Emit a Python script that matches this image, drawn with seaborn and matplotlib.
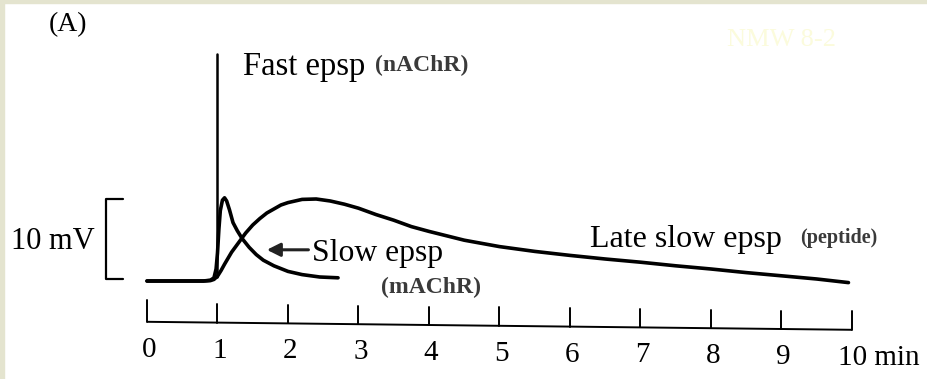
import numpy as np
import pandas as pd
import matplotlib
matplotlib.use("Agg")
import matplotlib.pyplot as plt
from matplotlib.patches import Rectangle
import seaborn as sns

# ---------------- data (time in min, potential in mV) ----------------
late_t = [0.00, 0.80, 0.90, 0.95, 1.00, 1.05, 1.10, 1.20, 1.30, 1.40, 1.50, 1.60,
          1.70, 1.80, 1.90, 2.00, 2.20, 2.40, 2.60, 2.80, 3.00, 3.25, 3.50, 3.75,
          4.00, 4.50, 5.00, 5.50, 6.00, 6.50, 7.00, 7.50, 8.00, 8.50, 9.00, 9.50, 9.95]
late_v = [0.0, 0.0, 0.05, 0.2, 0.6, 1.3, 2.1, 3.6, 4.8, 6.0, 7.0, 7.8,
          8.5, 9.0, 9.5, 9.8, 10.2, 10.25, 10.0, 9.6, 9.1, 8.3, 7.6, 6.8,
          6.2, 5.1, 4.3, 3.7, 3.2, 2.75, 2.35, 1.9, 1.5, 1.05, 0.65, 0.25, -0.2]

slow_t = [0.00, 0.80, 0.90, 0.95, 0.98, 1.00, 1.02, 1.04, 1.07, 1.10, 1.13, 1.17,
          1.22, 1.28, 1.35, 1.45, 1.55, 1.65, 1.80, 2.00, 2.20, 2.45, 2.71]
slow_v = [0.0, 0.0, 0.1, 0.4, 1.5, 3.5, 6.5, 8.8, 10.1, 10.4, 10.0, 8.9,
          7.3, 6.3, 5.3, 4.2, 3.3, 2.6, 1.9, 1.2, 0.8, 0.5, 0.4]

fast_t = [1.0, 1.0]
fast_v = [0.5, 28.4]

tick_vals = [0, 1, 2, 3, 4, 5, 6, 7, 8, 9, 10]
tick_labels = ["0", "1", "2", "3", "4", "5", "6", "7", "8", "9", "10 min"]
scale_bar_mv = [0.2, 10.2]

# ---------------- figure ----------------
sns.set_style("white")
plt.rcParams["font.family"] = ["Liberation Serif", "DejaVu Serif"]
plt.rcParams["text.color"] = "black"

fig = plt.figure(figsize=(9.27, 3.79), dpi=100)
fig.patch.set_facecolor("white")
ax = fig.add_axes([0, 0, 1, 1])
ax.set_facecolor("white")
ax.set_xlim(-2.085, 11.064)
ax.set_ylim(-12.25, 35.125)
ax.axis("off")

# textured border strips
fig.patches.append(Rectangle((0, 1 - 3 / 379), 1, 3 / 379, transform=fig.transFigure,
                             color="#e4e4cf", zorder=0))
fig.patches.append(Rectangle((0, 0), 4 / 927, 1, transform=fig.transFigure,
                             color="#e4e4cf", zorder=0))

lw = 2.6
sns.lineplot(x=late_t, y=late_v, ax=ax, color="black", lw=lw, sort=False, estimator=None)
sns.lineplot(x=slow_t, y=slow_v, ax=ax, color="black", lw=lw, sort=False, estimator=None)
sns.lineplot(x=fast_t, y=fast_v, ax=ax, color="black", lw=1.8, sort=False, estimator=None)

# time axis (slightly tilted, as in the scanned original)
ax_y = np.array([-5.1, -6.1])
def axis_y(t):
    return np.interp(t, [tick_vals[0], tick_vals[-1]], ax_y)

ax.plot([tick_vals[0], tick_vals[-1]], ax_y, color="black", lw=1.4, solid_capstyle="butt")
for i, t in enumerate(tick_vals):
    h = 2.75 if i == 0 else 2.3
    ax.plot([t, t], [axis_y(t), axis_y(t) + h], color="black", lw=1.4)
    ly = axis_y(t) - 3.5
    if i == len(tick_vals) - 1:
        ax.text(t - 0.2, ly, tick_labels[i], ha="left", va="center", fontsize=21)
    else:
        ax.text(t + 0.03, ly, tick_labels[i], ha="center", va="center", fontsize=21)

# 10 mV scale bracket
bx, bx2 = -0.58, -0.34
ax.plot([bx2, bx, bx, bx2], [scale_bar_mv[1], scale_bar_mv[1], scale_bar_mv[0], scale_bar_mv[0]],
        color="black", lw=1.6)
ax.text(-0.74, 4.9, "10 mV", ha="right", va="center", fontsize=22)

# labels
ax.text(-1.12, 32.0, "(A)", ha="center", va="center", fontsize=20)
ax.text(1.36, 25.75, "Fast epsp", ha="left", va="baseline", fontsize=23.5)
ax.text(3.23, 26.9, "(nAChR)", ha="left", va="center", fontsize=17,
        fontweight="bold", color="#3a3a3a")
ax.text(2.34, 2.5, "Slow epsp", ha="left", va="baseline", fontsize=22.8)
ax.annotate("", xy=(1.70, 3.9), xytext=(2.29, 3.9),
            arrowprops=dict(arrowstyle="-|>", color="#222222", lw=2.2, mutation_scale=20,
                            shrinkA=0, shrinkB=0))
ax.text(4.03, -0.75, "(mAChR)", ha="center", va="center", fontsize=17,
        fontweight="bold", color="#3a3a3a")
ax.text(6.28, 4.25, "Late slow epsp", ha="left", va="baseline", fontsize=23)
ax.text(9.26, 5.4, "(peptide)", ha="left", va="center", fontsize=14.5,
        fontweight="bold", color="#3a3a3a")
ax.text(9.0, 30.1, "NMW 8-2", ha="center", va="center", fontsize=19, color="#fbfbdc")

fig.savefig("out.png", dpi=100, facecolor=fig.get_facecolor())
